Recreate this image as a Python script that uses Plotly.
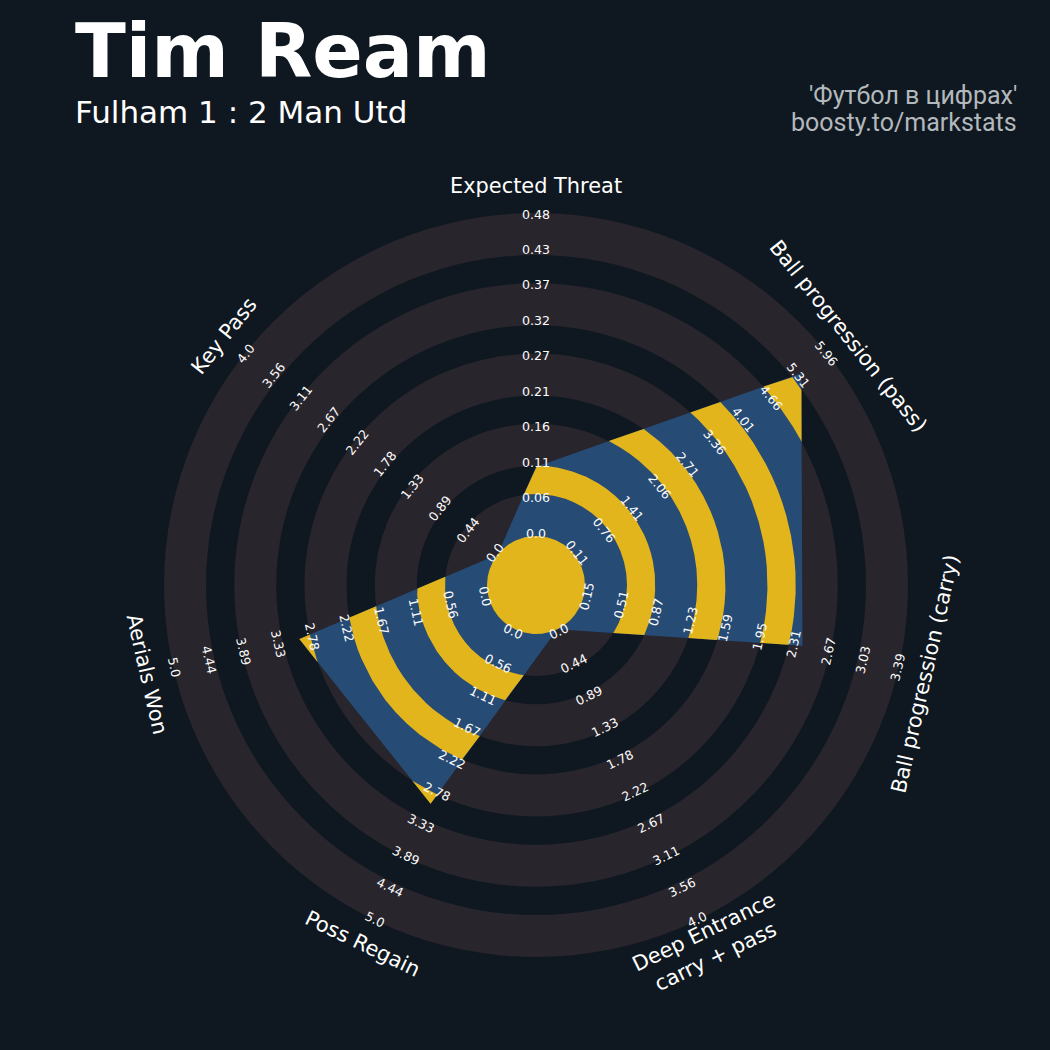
import numpy as np
import plotly.graph_objects as go

# ---------------- data ----------------
params = ["Expected Threat", "Ball progression (pass)", "Ball progression (carry)",
          "Deep Entrance<br>carry + pass", "Poss Regain", "Aerials Won", "Key Pass"]
low = [0.0, 0.11, 0.15, 0.0, 0.0, 0.0, 0.0]
high = [0.48, 5.96, 3.39, 4.0, 5.0, 5.0, 4.0]
values = [0.103, 5.37, 2.40, 0.0, 3.0, 3.0, 0.0]

ticks_xt = ["0.0", "0.06", "0.11", "0.16", "0.21", "0.27", "0.32", "0.37", "0.43", "0.48"]
ticks_pass = ["0.11", "0.76", "1.41", "2.06", "2.71", "3.36", "4.01", "4.66", "5.31", "5.96"]
ticks_carry = ["0.15", "0.51", "0.87", "1.23", "1.59", "1.95", "2.31", "2.67", "3.03", "3.39"]
ticks_deep = ["0.0", "0.44", "0.89", "1.33", "1.78", "2.22", "2.67", "3.11", "3.56", "4.0"]
ticks_regain = ["0.0", "0.56", "1.11", "1.67", "2.22", "2.78", "3.33", "3.89", "4.44", "5.0"]
ticks_aerial = ["0.0", "0.56", "1.11", "1.67", "2.22", "2.78", "3.33", "3.89", "4.44", "5.0"]
ticks_key = ["0.0", "0.44", "0.89", "1.33", "1.78", "2.22", "2.67", "3.11", "3.56", "4.0"]
range_labels = [ticks_xt, ticks_pass, ticks_carry, ticks_deep, ticks_regain, ticks_aerial, ticks_key]

title = "Tim Ream"
subtitle = "Fulham 1 : 2 Man Utd"
credit1 = "'Футбол в цифрах'"
credit2 = "boosty.to/markstats"

# ---------------- style / geometry ----------------
W = H = 1050
CX, CY = 536, 585            # radar centre in pixels (from top-left)
R_CENTER, R_OUTER = 49.0, 372.0
GRAY_W, DARK_W = 42.0, 28.25
BG = "#0f1820"
RING = "#28252c"
BLUE = "#264b75"
YELLOW = "#e3b51d"
FONT = "DejaVu Sans"

n = len(params)
step = 360.0 / n
angles = np.arange(n) * step   # clockwise from top


def to_radius(v, i):
    return R_CENTER + (v - low[i]) / (high[i] - low[i]) * (R_OUTER - R_CENTER)


vr = np.array([to_radius(values[i], i) for i in range(n)])
th_rad = np.radians(angles)
vx = vr * np.sin(th_rad)
vy = vr * np.cos(th_rad)


def cross(ax, ay, bx, by):
    return ax * by - ay * bx


def radial(theta_deg):
    t = np.mod(theta_deg, 360.0)
    k = np.floor(t / step).astype(int) % n
    k2 = (k + 1) % n
    px, py = vx[k], vy[k]
    ex, ey = vx[k2] - px, vy[k2] - py
    dx, dy = np.sin(np.radians(t)), np.cos(np.radians(t))
    return cross(px, py, ex, ey) / cross(dx, dy, ex, ey)


start = angles[np.argmin(vr)]
th = start + np.linspace(0, 360, 14401)
rho = radial(th)


def band_region(a, b):
    rout = np.minimum(b, rho)
    inside = rout > a + 1e-9
    xs, ys = [], []
    i = 0
    N = len(th)
    while i < N:
        if inside[i]:
            j = i
            while j + 1 < N and inside[j + 1]:
                j += 1
            t = np.radians(th[i:j + 1])
            r = rout[i:j + 1]
            xs += list(r * np.sin(t)) + list(a * np.sin(t[::-1])) + [None]
            ys += list(r * np.cos(t)) + list(a * np.cos(t[::-1])) + [None]
            i = j + 1
        else:
            i += 1
    return xs, ys


# band edges
gray_bands, dark_bands = [], []
r = R_CENTER
for k in range(5):
    gray_bands.append((r, r + GRAY_W))
    r += GRAY_W
    if k < 4:
        dark_bands.append((r, r + DARK_W))
        r += DARK_W

fig = go.Figure()

# background rings as stacked discs
shapes = []
edges = sorted([b for _, b in gray_bands] + [b for _, b in dark_bands], reverse=True)
for e in edges:
    col = RING if any(abs(e - gb[1]) < 1e-6 for gb in gray_bands) else BG
    shapes.append(dict(type="circle", xref="x", yref="y", x0=-e, x1=e, y0=-e, y1=e,
                       fillcolor=col, line=dict(width=0), layer="below"))

# radar polygon
fig.add_trace(go.Scatter(x=list(vx) + [vx[0]], y=list(vy) + [vy[0]], mode="lines",
                         fill="toself", fillcolor=BLUE, line=dict(width=0, color=BLUE),
                         hoverinfo="skip", showlegend=False))

# yellow rings clipped to polygon (incl. centre circle)
yx, yy = [], []
for a, b in [(0.0, R_CENTER)] + dark_bands:
    xs, ys = band_region(a, b)
    yx += xs
    yy += ys
fig.add_trace(go.Scatter(x=yx, y=yy, mode="lines", fill="toself", fillcolor=YELLOW,
                         line=dict(width=0, color=YELLOW), hoverinfo="skip", showlegend=False))

annotations = []


def text_angle(a):
    if a <= 90:
        return a
    if a < 270:
        return a - 180
    return a - 360


label_r = np.linspace(52, 371, 10)
for i in range(n):
    ang = angles[i]
    ta = text_angle(ang)
    s, c = np.sin(np.radians(ang)), np.cos(np.radians(ang))
    for j, lab in enumerate(range_labels[i]):
        annotations.append(dict(x=label_r[j] * s, y=label_r[j] * c, xref="x", yref="y",
                                text=lab, showarrow=False, textangle=ta,
                                xanchor="center", yanchor="middle",
                                font=dict(family=FONT, size=12.6, color="#fcfcfc")))
    pr = 399
    annotations.append(dict(x=pr * s, y=pr * c, xref="x", yref="y", text=params[i],
                            showarrow=False, textangle=ta, xanchor="center", yanchor="middle",
                            font=dict(family=FONT, size=20.9, color="#ffffff")))

annotations.append(dict(x=73 / W, y=1 - 51.5 / H, xref="paper", yref="paper", text=title,
                        showarrow=False, xanchor="left", yanchor="middle",
                        font=dict(family=FONT, size=74.5, color="#ffffff", weight=700)))
annotations.append(dict(x=73 / W, y=1 - 112.5 / H, xref="paper", yref="paper", text=subtitle,
                        showarrow=False, xanchor="left", yanchor="middle",
                        font=dict(family=FONT, size=31, color="#ffffff")))
annotations.append(dict(x=1019 / W, y=1 - 95 / H, xref="paper", yref="paper", text=credit1,
                        showarrow=False, xanchor="right", yanchor="middle",
                        font=dict(family="Roboto", size=25, color="#b3b8bd")))
annotations.append(dict(x=1019 / W, y=1 - 123 / H, xref="paper", yref="paper", text=credit2,
                        showarrow=False, xanchor="right", yanchor="middle",
                        font=dict(family="Roboto", size=25, color="#b3b8bd")))

fig.update_layout(
    width=W, height=H, margin=dict(l=0, r=0, t=0, b=0),
    paper_bgcolor=BG, plot_bgcolor=BG,
    xaxis=dict(range=[-CX, W - CX], visible=False, fixedrange=True),
    yaxis=dict(range=[-(H - CY), CY], visible=False, fixedrange=True),
    shapes=shapes, annotations=annotations, showlegend=False,
)

fig.write_html("out.html", config={"displayModeBar": False},
               post_script="document.body.style.margin='0';document.body.style.background='" + BG + "';")
